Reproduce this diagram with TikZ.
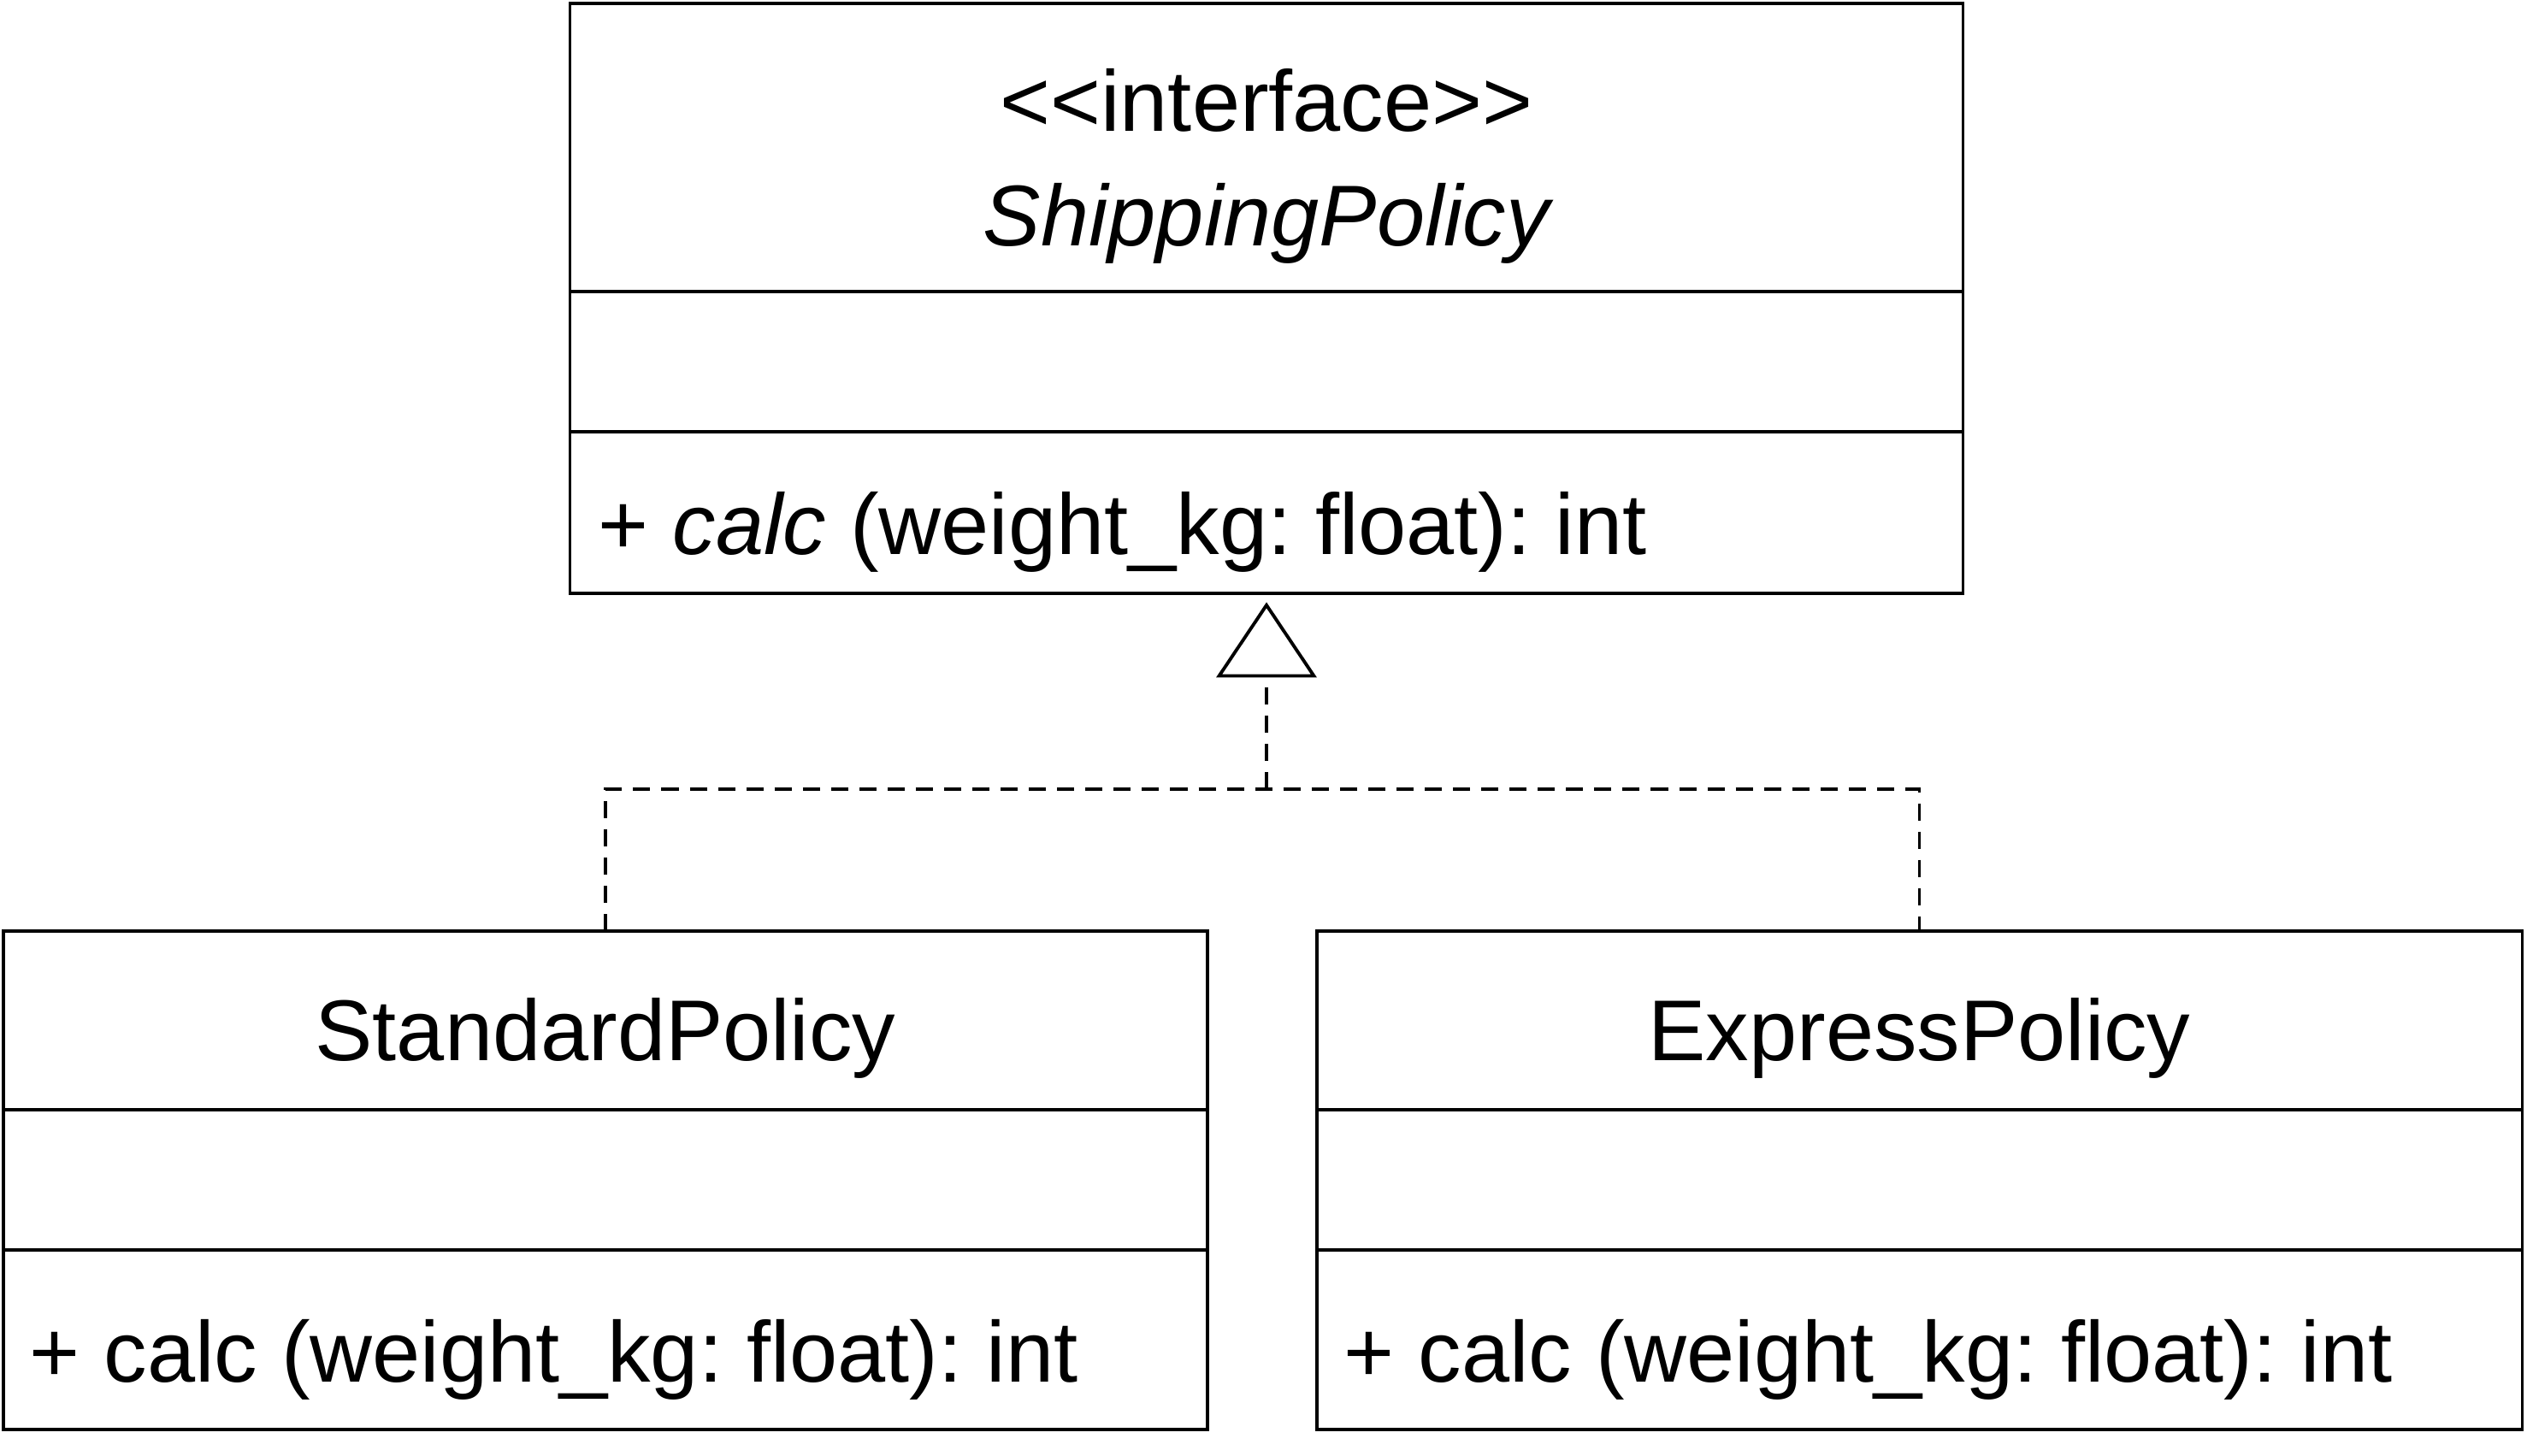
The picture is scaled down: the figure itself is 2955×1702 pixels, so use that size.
\documentclass[tikz,border=0pt]{standalone}
\usepackage{fontspec}
\setmainfont{Liberation Sans}
\usetikzlibrary{arrows.meta,positioning}

\newcommand{\umlfont}{\fontsize{28.7}{34}\selectfont\frenchspacing}

\begin{document}
\begin{tikzpicture}[
		x=0.01cm, y=-0.01cm,
		cls/.style  = {rectangle, draw, line width=1.1pt, inner sep=0pt, outer sep=0pt},
		txt/.style  = {inner sep=0pt, font=\umlfont, anchor=base},
		op/.style   = {txt, anchor=base west},
		dep/.style  = {line width=1.1pt, dash pattern=on 5.7pt off 3.7pt},
		real/.style = {-{Triangle[open, length=0.88cm, width=1.17cm]}, shorten >=0.1cm}
		]
		\useasboundingbox (0,0) rectangle (2955,1702);
		
		%Interface
		\node[cls, minimum width=16.28cm, minimum height=3.37cm]	(shiphead)	at	(1481, 172.5)	{};
		\node[cls, minimum width=16.28cm, minimum height=1.64cm, below=0pt of shiphead]	(shipattr)	{};
		\node[cls, minimum width=16.28cm, minimum height=1.89cm, below=0pt of shipattr]	(shipops)	{};
		\node[txt]	(shipstereo)	at	(1481, 153)	{\textless{}\textless{}interface\textgreater{}\textgreater};
		\node[txt]	(shipname)	at	(1481, 287)	{\itshape ShippingPolicy};
		\node[op]	(shipcalc)	at	(699, 648)	{+ \textit{calc} (weight\_kg: float): int};
		
		%Standard
		\node[cls, minimum width=14.08cm, minimum height=2.09cm]	(stdhead)	at	(708, 1193.5)	{};
		\node[cls, minimum width=14.08cm, minimum height=1.64cm, below=0pt of stdhead]	(stdattr)	{};
		\node[cls, minimum width=14.08cm, minimum height=2.10cm, below=0pt of stdattr]	(stdops)	{};
		\node[txt]	(stdname)	at	(708, 1240)	{StandardPolicy};
		\node[op]	(stdcalc)	at	(34, 1616)	{+ calc (weight\_kg: float): int};
		
		%Express
		\node[cls, minimum width=14.09cm, minimum height=2.09cm]	(exphead)	at	(2244.5, 1193.5)	{};
		\node[cls, minimum width=14.09cm, minimum height=1.64cm, below=0pt of exphead]	(expattr)	{};
		\node[cls, minimum width=14.09cm, minimum height=2.10cm, below=0pt of expattr]	(expops)	{};
		\node[txt]	(expname)	at	(2244.5, 1240)	{ExpressPolicy};
		\node[op]	(expcalc)	at	(1571, 1616)	{+ calc (weight\_kg: float): int};
		
		%Lines
		\coordinate	(join)	at	(1481, 923);
		\draw[dep]	(stdhead.north)	|-	(join)	-|	(exphead.north);
		\draw[dep, real]	(join)	to	(shipops.south);
	\end{tikzpicture}
\end{document}
